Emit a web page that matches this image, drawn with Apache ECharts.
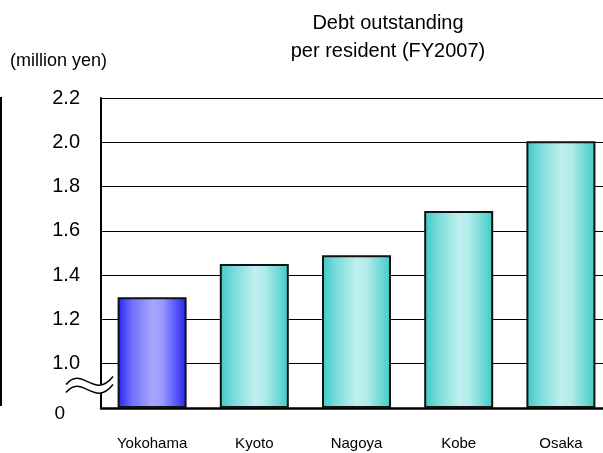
<!DOCTYPE html>
<html>
<head>
<meta charset="utf-8">
<script src="https://cdn.jsdelivr.net/npm/echarts@6/dist/echarts.min.js"></script>
<style>
  html, body { margin: 0; padding: 0; background: #fff; }
  #chart { width: 603px; height: 453px; }
</style>
</head>
<body>
<div id="chart"></div>
<script>
const cities = ["Yokohama", "Kyoto", "Nagoya", "Kobe", "Osaka"];
const debtPerResident = [1.30, 1.45, 1.49, 1.69, 2.005];
// axis starts at a break: the bottom value is shown as "0"
const axisBottom = 0.8;
const axisTop = 2.2;
const axisStep = 0.2;

const tealGrad = new echarts.graphic.LinearGradient(0, 0, 1, 0, [
  { offset: 0, color: "#3cc9c6" },
  { offset: 0.2, color: "#79dcd9" },
  { offset: 0.5, color: "#bff0ef" },
  { offset: 0.65, color: "#b2ecea" },
  { offset: 1, color: "#3ecbc8" },
]);
const blueGrad = new echarts.graphic.LinearGradient(0, 0, 1, 0, [
  { offset: 0, color: "#2424f6" },
  { offset: 0.2, color: "#6e6efc" },
  { offset: 0.5, color: "#a6a6ff" },
  { offset: 0.65, color: "#9a9aff" },
  { offset: 1, color: "#2222fa" },
]);

const chart = echarts.init(document.getElementById("chart"));
const option = {
  animation: false,
  textStyle: { fontFamily: "Liberation Sans, Arial, sans-serif", color: "#000" },
  title: {
    text: "Debt outstanding\nper resident (FY2007)",
    left: 383,
    top: 4,
    textAlign: "center",
    textStyle: { fontSize: 20, fontWeight: "normal", lineHeight: 28, color: "#000" },
  },
  // plot area runs a little past the right edge of the picture
  grid: { left: 101, width: 511, top: 98, bottom: 45, outerBoundsMode: "none" },
  xAxis: {
    type: "category",
    data: cities,
    axisLine: { lineStyle: { color: "#000", width: 2.5 } },
    axisTick: { inside: true, length: 6, lineStyle: { color: "#000", width: 1 } },
    axisLabel: { fontSize: 15, color: "#000", margin: 28 },
  },
  yAxis: {
    type: "value",
    min: axisBottom,
    max: axisTop,
    interval: axisStep,
    startValue: axisBottom,
    axisLine: { show: true, lineStyle: { color: "#000", width: 2 } },
    axisTick: { show: false },
    splitLine: { lineStyle: { color: "#000", width: 1 } },
    axisLabel: {
      fontSize: 20,
      color: "#000",
      margin: 21,
      formatter: (v) => (Math.abs(v - axisBottom) < 1e-6 ? "{z|0}" : v.toFixed(1)),
      rich: { z: { fontSize: 19, padding: [12, 15, 0, 0] } },
    },
  },
  series: [
    {
      type: "bar",
      barWidth: 69,
      data: debtPerResident.map((v, i) => ({
        value: v,
        itemStyle: { color: i === 0 ? blueGrad : tealGrad },
      })),
      itemStyle: { borderColor: "#111", borderWidth: 2 },
    },
  ],
};
chart.setOption(option);

// axis break mark between 0 and 1.0, plus the unit label and the cropped frame edge
const yb = chart.convertToPixel({ yAxisIndex: 0 }, 0.915);
const x0 = 66, x1 = 113;
const wave = (dy, stroke, lw, z) => ({
  type: "bezierCurve",
  shape: {
    x1: x0, y1: yb + dy + 2,
    cpx1: x0 + 16, cpy1: yb + dy - 18,
    cpx2: x0 + 28, cpy2: yb + dy + 18,
    x2: x1, y2: yb + dy - 6,
  },
  style: { fill: null, stroke: stroke, lineWidth: lw },
  z: z,
});
chart.setOption({
  graphic: [
    {
      type: "text",
      left: 10,
      top: 52,
      style: { text: "(million yen)", fontSize: 18, fill: "#000", fontFamily: "Liberation Sans" },
    },
    {
      type: "line",
      shape: { x1: 1, y1: 97, x2: 1, y2: 406 },
      style: { stroke: "#000", lineWidth: 2 },
    },
    wave(4, "#fff", 8, 100),
    wave(0, "#000", 1.5, 101),
    wave(8, "#000", 1.5, 101),
  ],
});
</script>
</body>
</html>
